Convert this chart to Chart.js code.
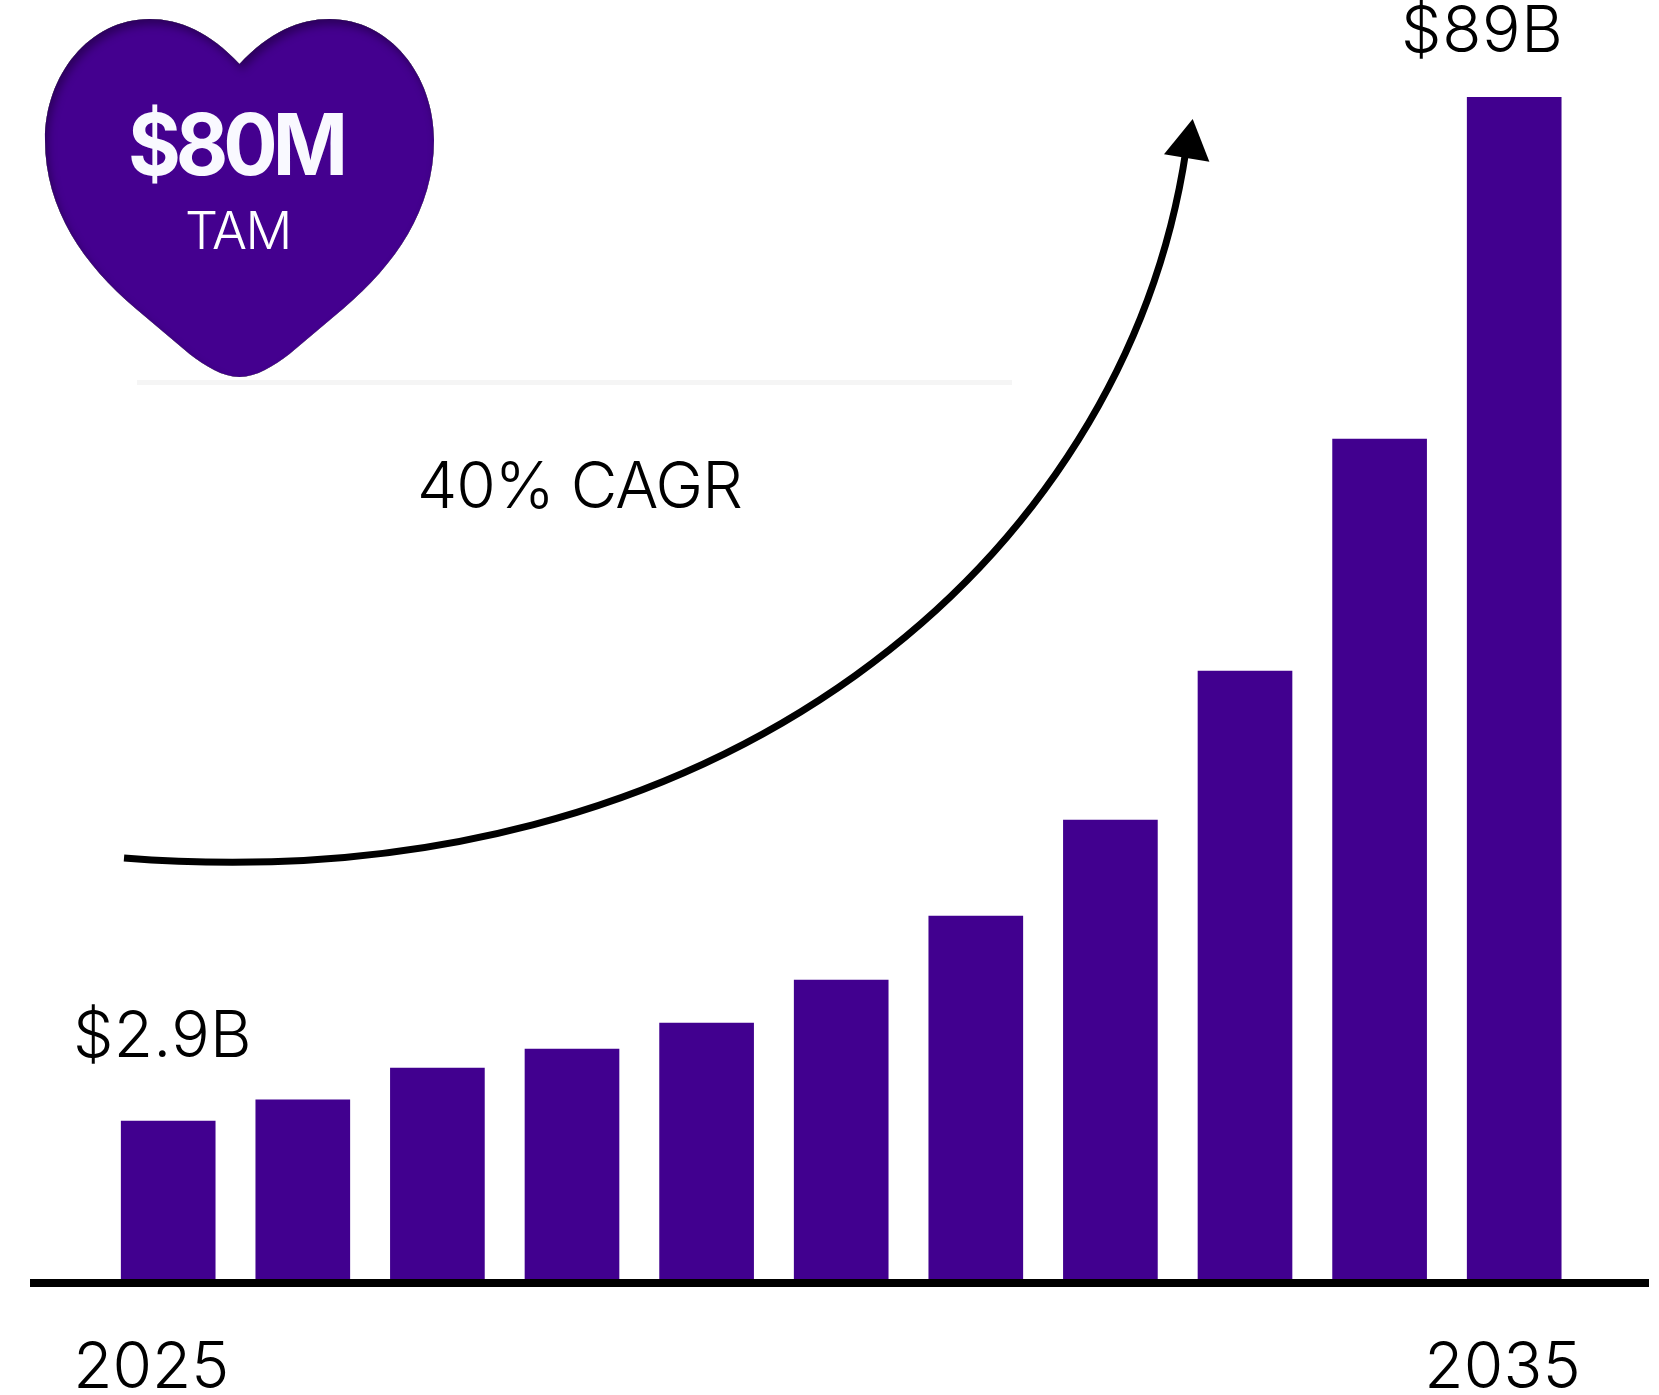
<!DOCTYPE html>
<html>
<head>
<meta charset="utf-8">
<style>html,body{margin:0;padding:0;background:#fff}canvas{position:absolute;left:0;top:0}</style>
<script src="https://cdn.jsdelivr.net/npm/chart.js@4"></script>
</head>
<body>
<canvas id="c" width="1659" height="1395"></canvas>
<script>
const years = ['2025','2026','2027','2028','2029','2030','2031','2032','2033','2034','2035'];
// Bar heights, on a scale where the tallest bar is 89.
const barValues = [12.41, 13.99, 16.38, 17.8, 19.74, 22.96, 27.75, 34.93, 46.07, 63.42, 89];
const startLabel = '$2.9B';
const endLabel = '$89B';
const growthLabel = '40% CAGR';
const heartValue = '$80M';
const heartCaption = 'TAM';
const FONT = 'Inter, sans-serif';

function text(ctx, str, x, y, font, color, spacing, squeeze) {
  ctx.save();
  ctx.translate(x, y);
  ctx.scale(squeeze || 1, 1);
  ctx.font = font;
  ctx.fillStyle = color;
  ctx.letterSpacing = (spacing || 0) + 'px';
  ctx.textAlign = 'left';
  ctx.textBaseline = 'alphabetic';
  ctx.fillText(str, 0, 0);
  ctx.restore();
}

function heartPath(ctx) {
  const c = 239.5;
  ctx.beginPath();
  ctx.moveTo(c, 64);
  ctx.bezierCurveTo(c - 29.5, 32, c - 60, 19, c - 90, 19);
  ctx.bezierCurveTo(c - 150, 19, c - 194.5, 75, c - 194.5, 140);
  ctx.bezierCurveTo(c - 194.5, 210, c - 155, 265, c - 104.5, 308);
  ctx.lineTo(c - 50, 354);
  ctx.bezierCurveTo(c - 34, 366, c - 17, 377, c, 377);
  ctx.bezierCurveTo(c + 17, 377, c + 34, 366, c + 50, 354);
  ctx.lineTo(c + 104.5, 308);
  ctx.bezierCurveTo(c + 155, 265, c + 194.5, 210, c + 194.5, 140);
  ctx.bezierCurveTo(c + 194.5, 75, c + 150, 19, c + 90, 19);
  ctx.bezierCurveTo(c + 60, 19, c + 29.5, 32, c, 64);
  ctx.closePath();
}

const decorations = {
  id: 'decorations',
  beforeDatasetsDraw(chart) {
    const ctx = chart.ctx;
    ctx.save();
    ctx.fillStyle = '#F5F5F5';
    ctx.fillRect(137, 380, 875, 5);
    ctx.restore();
  },
  afterDatasetsDraw(chart) {
    const ctx = chart.ctx;
    const x = chart.scales.x;

    // baseline
    ctx.save();
    ctx.fillStyle = '#000';
    ctx.fillRect(30, 1279, 1619, 8);
    ctx.restore();

    // growth arrow
    ctx.save();
    ctx.strokeStyle = '#000';
    ctx.lineWidth = 7;
    ctx.beginPath();
    ctx.moveTo(124, 858);
    ctx.bezierCurveTo(720, 905, 1125, 560, 1186, 150);
    ctx.stroke();
    ctx.fillStyle = '#000';
    ctx.beginPath();
    ctx.moveTo(1192.7, 119);
    ctx.lineTo(1164, 154.3);
    ctx.lineTo(1209.4, 161.7);
    ctx.closePath();
    ctx.fill();
    ctx.restore();

    // heart with a soft inner shadow on its upper left edges
    ctx.save();
    heartPath(ctx);
    ctx.fillStyle = '#44008F';
    ctx.fill();
    ctx.clip();
    ctx.shadowColor = 'rgba(0,0,0,0.35)';
    ctx.shadowBlur = 9;
    ctx.shadowOffsetX = 3;
    ctx.shadowOffsetY = 6;
    ctx.fillStyle = '#000';
    heartPath(ctx);
    ctx.rect(-200, -200, 900, 900);
    ctx.fill('evenodd');
    ctx.restore();

    text(ctx, heartValue, 128, 175, '700 85px ' + FONT, '#F9F9FF', -5.3, 0.95);
    text(ctx, heartCaption, 185, 249, '350 52px ' + FONT, '#FFFFFF', -1.6);

    // annotations
    const label = '350 64px ' + FONT;
    text(ctx, startLabel, 73, 1057, label, '#000', 0.3);
    text(ctx, endLabel, 1401, 52, label, '#000', 0.7);
    text(ctx, growthLabel, 417, 508, label, '#000', -1);

    // first and last year
    text(ctx, years[0], x.getPixelForValue(0) - 95, 1388, label, '#000', 0);
    text(ctx, years[years.length - 1], x.getPixelForValue(years.length - 1) - 90, 1388, label, '#000', 0.3);
  }
};

new Chart(document.getElementById('c'), {
  type: 'bar',
  data: {
    labels: years,
    datasets: [{ data: barValues, backgroundColor: '#41008F', borderWidth: 0, barThickness: 94 }]
  },
  options: {
    responsive: false,
    animation: false,
    devicePixelRatio: 1,
    layout: { padding: { left: 100.9, right: 77.5, top: 97, bottom: 108 } },
    plugins: { legend: { display: false }, tooltip: { enabled: false } },
    scales: {
      x: { display: false, grid: { display: false } },
      y: { display: false, min: 0, max: 89, grid: { display: false } }
    }
  },
  plugins: [decorations]
});
</script>
</body>
</html>
